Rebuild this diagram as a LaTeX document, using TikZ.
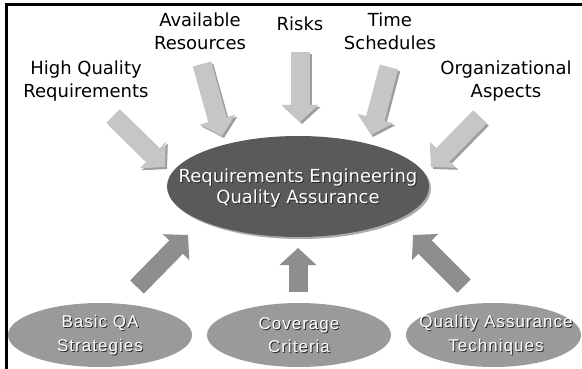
\documentclass[tikz,border=0pt]{standalone}
\usepackage{fontspec}
\setmainfont{DejaVu Sans}
\newfontfamily\arialls[LetterSpace=6]{Liberation Sans}
\usetikzlibrary{arrows.meta,shapes.geometric}
\definecolor{toparrow}{HTML}{C6C6C6}
\definecolor{toparrowsh}{HTML}{9C9C9C}
\definecolor{botarrow}{HTML}{8E8E8E}
\definecolor{centerfill}{HTML}{5A5A5A}
\definecolor{centersh}{HTML}{ABABAB}
\definecolor{botfill}{HTML}{9A9A9A}
\definecolor{txtsh}{HTML}{2A2A2A}
\begin{document}
\begin{tikzpicture}[x=1pt,y=-1pt,
  lbl/.style={align=center, font=\fontsize{18}{22.5}\selectfont, inner sep=0pt},
  blockarrow/.style={line width=19pt, -{Triangle[length=17pt,width=36pt]}},
  centerell/.style={ellipse, fill=centerfill, minimum width=262pt, minimum height=101pt, inner sep=0pt},
  botell/.style={ellipse, fill=botfill, minimum height=64pt, inner sep=0pt},
  ctext/.style={align=center, font=\fontsize{18}{21.5}\selectfont, inner sep=0pt},
  btext/.style={align=center, font=\arialls\fontsize{17}{23.5}\selectfont, inner sep=0pt}]
\useasboundingbox (0,0) rectangle (582,369);
\fill[white] (0,0) rectangle (582,369);
\draw[line width=2.5pt] (582,4.5) -- (6.5,4.5) -- (6.5,369);

% labels
\node[lbl] (hqr) at (86,81) {High Quality\\Requirements};
\node[lbl] (ar) at (200,31.5) {Available\\Resources};
\node[lbl] (risks) at (300,24) {Risks};
\node[lbl] (ts) at (390,31.5) {Time\\Schedules};
\node[lbl] (oa) at (506,81) {Organizational\\Aspects};

% arrow ends
\coordinate (t1) at (113,116); \coordinate (h1) at (165,167);
\coordinate (t2) at (202,64);  \coordinate (h2) at (222,136);
\coordinate (t3) at (300,52);  \coordinate (h3) at (300,122);
\coordinate (t4) at (389,67);  \coordinate (h4) at (371,135);
\coordinate (t5) at (480,117); \coordinate (h5) at (431,167);
\coordinate (t6) at (137,287); \coordinate (h6) at (188,235);
\coordinate (t7) at (298,292); \coordinate (h7) at (298,248);
\coordinate (t8) at (464,286); \coordinate (h8) at (413,235);

\foreach \a in {1,...,5}{
  \draw[blockarrow, toparrowsh] ([shift={(2,2)}]t\a) -- ([shift={(2,2)}]h\a);
  \draw[blockarrow, toparrow] (t\a) -- (h\a);
}
\foreach \a in {6,7,8}{
  \draw[blockarrow, botarrow] (t\a) -- (h\a);
}

% central ellipse
\node[centerell, fill=centersh] at (300,188.5) {};
\node[centerell] (rq) at (298,186.5) {};
\node[ctext, text=txtsh] at (299,189) {Requirements Engineering\\Quality Assurance};
\node[ctext, text=white] (rqt) at (298,188) {Requirements Engineering\\Quality Assurance};

% bottom ellipses
\node[botell, minimum width=184pt] (bqa) at (100,335) {};
\node[botell, minimum width=184pt] (cc) at (299,335) {};
\node[botell, minimum width=175pt] (qat) at (493.5,335) {};
\node[btext, text=txtsh] at (101,336) {Basic QA\\Strategies};
\node[btext, text=white] at (100,335) {Basic QA\\Strategies};
\node[btext, text=txtsh] at (300,336) {Coverage\\Criteria};
\node[btext, text=white] at (299,335) {Coverage\\Criteria};
\node[btext, text=txtsh] at (497,336) {Quality Assurance\\Techniques};
\node[btext, text=white] at (496,335) {Quality Assurance\\Techniques};
\end{tikzpicture}
\end{document}
